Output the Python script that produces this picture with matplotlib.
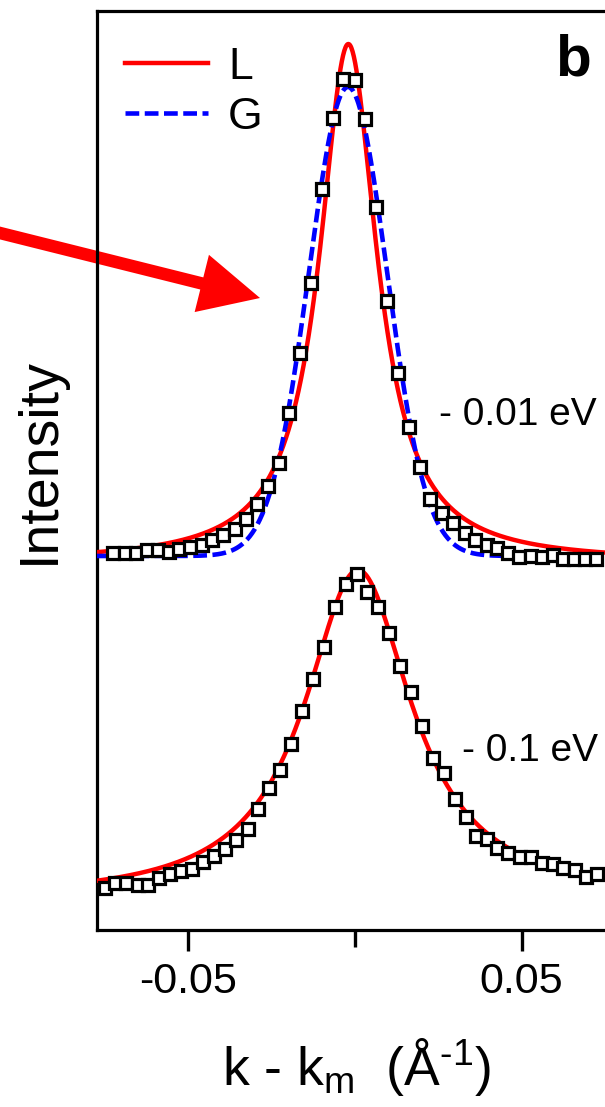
import numpy as np
import matplotlib
matplotlib.use("Agg")
import matplotlib.pyplot as plt
from matplotlib.patches import FancyArrow
from matplotlib.transforms import IdentityTransform

plt.rcParams['font.family'] = ['Liberation Sans', 'DejaVu Sans']
plt.rcParams['mathtext.fontset'] = 'custom'
plt.rcParams['mathtext.rm'] = 'Liberation Sans'
plt.rcParams['mathtext.it'] = 'Liberation Sans:italic'
plt.rcParams['axes.unicode_minus'] = False

# Momentum distribution curve at -0.01 eV (vertically offset)
k_upper = [-0.0725, -0.0690, -0.0657, -0.0625, -0.0592, -0.0558, -0.0527, -0.0495,
           -0.0460, -0.0428, -0.0395, -0.0360, -0.0328, -0.0295, -0.0262, -0.0228,
           -0.0198, -0.0165, -0.0133, -0.0100, -0.0067, -0.0037, 0.0001, 0.0031,
           0.0063, 0.0095, 0.0130, 0.0163, 0.0196, 0.0225, 0.0260, 0.0295,
           0.0330, 0.0360, 0.0395, 0.0427, 0.0460, 0.0493, 0.0527, 0.0560,
           0.0593, 0.0625, 0.0657, 0.0690, 0.0723]
i_upper = [3.767, 3.767, 3.767, 3.800, 3.800, 3.783, 3.807, 3.827,
           3.850, 3.900, 3.950, 4.007, 4.107, 4.258, 4.440, 4.675,
           5.167, 5.767, 6.473, 7.410, 8.117, 8.507, 8.500, 8.107,
           7.233, 6.290, 5.567, 5.027, 4.630, 4.307, 4.173, 4.073,
           3.973, 3.900, 3.850, 3.817, 3.773, 3.727, 3.740, 3.727,
           3.750, 3.707, 3.707, 3.707, 3.707]

# Momentum distribution curve at -0.1 eV
k_lower = [-0.0750, -0.0720, -0.0687, -0.0652, -0.0620, -0.0587, -0.0555, -0.0523,
           -0.0489, -0.0455, -0.0423, -0.0390, -0.0358, -0.0322, -0.0290, -0.0258,
           -0.0225, -0.0192, -0.0160, -0.0127, -0.0093, -0.0060, -0.0028, 0.0005,
           0.0037, 0.0070, 0.0103, 0.0135, 0.0168, 0.0200, 0.0233, 0.0267,
           0.0300, 0.0333, 0.0363, 0.0395, 0.0427, 0.0460, 0.0495, 0.0527,
           0.0560, 0.0593, 0.0625, 0.0660, 0.0692, 0.0725]
i_lower = [0.423, 0.467, 0.473, 0.450, 0.450, 0.517, 0.557, 0.590,
           0.607, 0.683, 0.740, 0.807, 0.900, 1.007, 1.207, 1.423,
           1.600, 1.857, 2.190, 2.510, 2.833, 3.233, 3.457, 3.557,
           3.383, 3.233, 2.973, 2.643, 2.383, 2.040, 1.723, 1.567,
           1.310, 1.133, 0.940, 0.907, 0.823, 0.767, 0.733, 0.727,
           0.673, 0.660, 0.617, 0.600, 0.533, 0.557]

# Fit parameters: centre, width (HWHM for L, sigma for G), amplitude, background
fit_upper_L = dict(center=-0.0020, width=0.0105, amp=5.18, bg=3.68)
fit_upper_G = dict(center=-0.0021, width=0.0117, amp=4.69, bg=3.74)
fit_lower_L = dict(center=0.0009, width=0.0195, amp=3.30, bg=0.30)

energy_labels = ['- 0.01 eV', '- 0.1 eV']
legend_labels = ['L', 'G']
xtick_vals = [-0.05, 0.05]
xtick_labels = ['-0.05', '0.05']
minor_tick_vals = [0.0]
x_range = (-0.0774, 0.0750)
y_range = (0.0, 9.19)


def lorentzian(x, center, width, amp, bg):
    return bg + amp / (1.0 + ((x - center) / width) ** 2)


def gaussian(x, center, width, amp, bg):
    return bg + amp * np.exp(-0.5 * ((x - center) / width) ** 2)


W, H = 605, 1107
fig = plt.figure(figsize=(W / 100, H / 100), dpi=100)
ax = fig.add_axes([97 / W, (H - 930) / H, 508 / W, 919 / H])
ax.set_facecolor('none')

kk = np.linspace(x_range[0], x_range[1], 800)
red = '#ff0000'
blue = '#0000ff'
lw = 3.2

ax.plot(kk, lorentzian(kk, **fit_upper_L), color=red, lw=lw, zorder=3,
        label=legend_labels[0])
ax.plot(kk, gaussian(kk, **fit_upper_G), color=blue, lw=3.3, ls=(0, (3.0, 1.2)),
        zorder=3, label=legend_labels[1])
ax.plot(kk, lorentzian(kk, **fit_lower_L), color=red, lw=lw, zorder=3)

mk = dict(ls='none', marker='s', ms=8.4, mfc='white', mec='black', mew=2.3, zorder=5)
ax.plot(k_upper, i_upper, **mk)
ax.plot(k_lower, i_lower, **mk)

ax.set_xlim(*x_range)
ax.set_ylim(*y_range)

ax.spines['right'].set_visible(False)
for side in ('left', 'top', 'bottom'):
    ax.spines[side].set_linewidth(2.3)

ax.set_yticks([])
ax.set_xticks(xtick_vals)
ax.set_xticklabels(xtick_labels)
ax.set_xticks(minor_tick_vals, minor=True)
ax.tick_params(axis='x', which='major', direction='out', length=15, width=2.4,
               labelsize=31, pad=8)
ax.tick_params(axis='x', which='minor', direction='out', length=12, width=2.4)

ax.set_xlabel('k - k$_{\\rm m}$  (Å$^{\u2010\\rm 1}$)', fontsize=38.5)
ax.xaxis.set_label_coords(0.51, -0.115)
ax.set_ylabel('Intensity', fontsize=40)
ax.yaxis.set_label_coords(-0.061, 0.511)

ax.text(0.984, 0.5495, energy_labels[0], transform=ax.transAxes,
        ha='right', va='baseline', fontsize=28)
ax.text(0.986, 0.184, energy_labels[1], transform=ax.transAxes,
        ha='right', va='baseline', fontsize=28)
ax.text(0.937, 0.930, 'b', transform=ax.transAxes, ha='center',
        va='baseline', fontsize=42, fontweight='bold')

ax.legend(loc='upper left', bbox_to_anchor=(0.055, 0.961), frameon=False,
          fontsize=32, handlelength=1.87, handletextpad=0.45,
          labelspacing=0.2, borderpad=0, borderaxespad=0)

# red pointer arrow (pixel coordinates, origin bottom-left)
arrow = FancyArrow(-10, H - 230.5, 270, -67.5, width=12.5, head_width=59,
                   head_length=60, length_includes_head=True,
                   color=red, lw=0, transform=IdentityTransform(), zorder=-1)
fig.patches.append(arrow)
arrow.set_figure(fig)

fig.savefig('out.png', dpi=100)
